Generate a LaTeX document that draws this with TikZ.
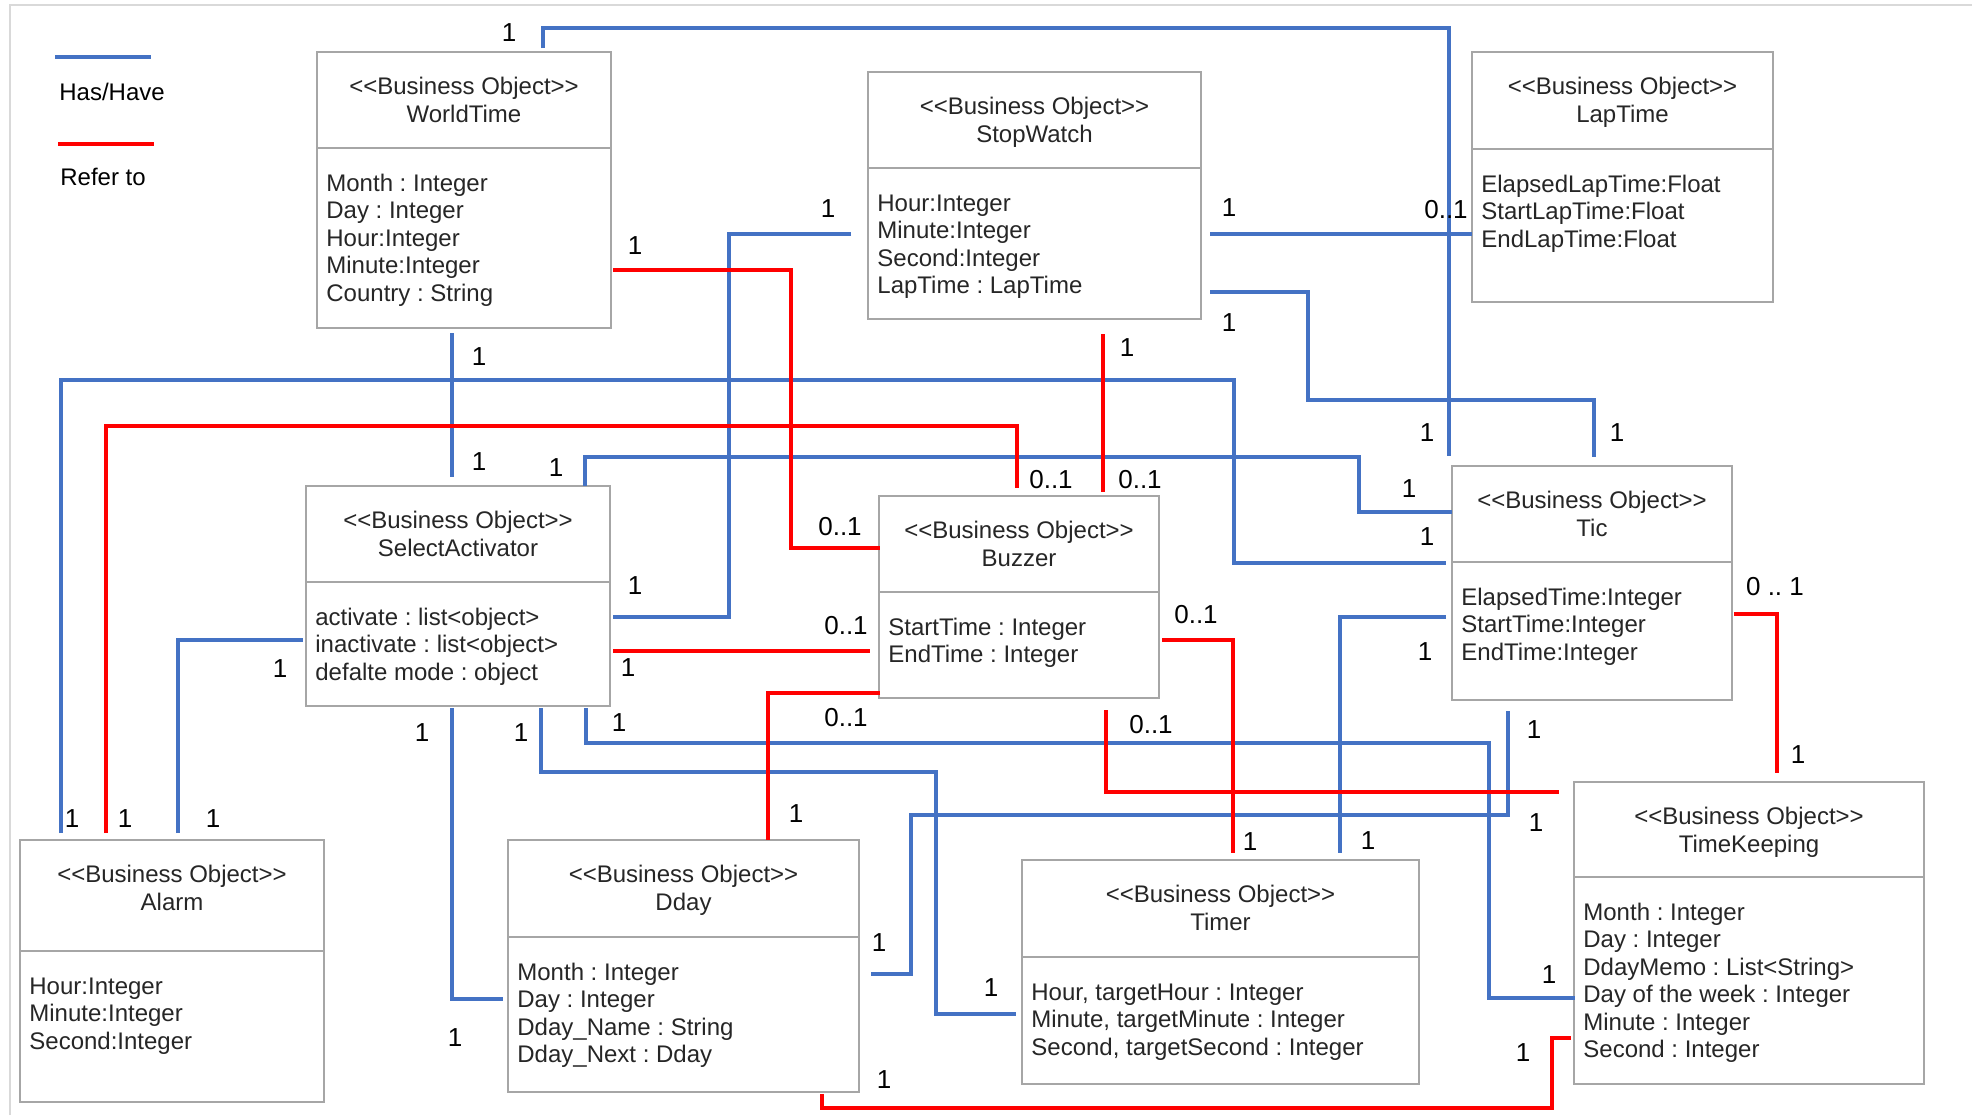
\documentclass[tikz,border=0pt]{standalone}
\usepackage{fontspec}
\setmainfont{Liberation Sans}
\frenchspacing
\definecolor{hasblue}{HTML}{4472C4}
\definecolor{refred}{HTML}{FF0000}
\definecolor{boxgray}{HTML}{A6A6A6}
\definecolor{txtc}{HTML}{262626}
\definecolor{framegray}{HTML}{D9D9D9}
\tikzset{
  hasline/.style={draw=hasblue, line width=2pt},
  refline/.style={draw=refred, line width=2pt},
  ubox/.style={draw=boxgray, line width=1pt, inner sep=0pt, outer sep=0pt},
  boxline/.style={draw=boxgray, line width=1pt},
  utext/.style={inner sep=0pt, font=\fontsize{12}{14}\selectfont\frenchspacing, text=txtc},
  mult/.style={inner sep=0pt, font=\fontsize{13}{15}\selectfont, text=black},
  legtext/.style={inner sep=0pt, font=\fontsize{12}{14}\selectfont, text=black, anchor=west},
}
\newcommand\umlbox[8]{%
  \node[ubox, minimum width={(#4-#2)*0.5pt}, minimum height={(#5-#3)*0.5pt}] (#1) at ({(#2+#4)/2},{(#3+#5)/2}) {};
  \draw[boxline] (#2,#6) -- (#4,#6);
  \node[utext, anchor=base] (#1-st) at ({(#2+#4)/2},{#3+42.5}) {<\kern0pt<Business Object>\kern0pt>};
  \node[utext, anchor=base] (#1-nm) at ({(#2+#4)/2},{#3+70}) {#7};
  \foreach \bodyline [count=\bi] in {#8}{
    \node[utext, anchor=base west] (#1-b\bi) at ({#2+9},{#6+43+(\bi-1)*27.5}) {\bodyline};
  }
}
\begin{document}
\begin{tikzpicture}[x=0.5pt,y=-0.5pt]
\fill[white] (0,0) rectangle (1972,1115);
\useasboundingbox (0,0) rectangle (1972,1115);
\draw[framegray, line width=0.6pt] (10,1115) -- (10,5) -- (1972,5);

% legend
\coordinate (lg1a) at (55,57); \coordinate (lg1b) at (151,57);
\draw[hasline] (lg1a) -- (lg1b);
\node[legtext] (lgt1) at (59,92) {Has/Have};
\coordinate (lg2a) at (58,144); \coordinate (lg2b) at (154,144);
\draw[refline] (lg2a) -- (lg2b);
\node[legtext] (lgt2) at (60,177) {Refer to};

% boxes
\umlbox{wt}{317}{52}{611}{328}{148}{WorldTime}{Month : Integer, Day : Integer, Hour:Integer, Minute:Integer, Country : String}
\umlbox{sw}{868}{72}{1201}{319}{168}{StopWatch}{Hour:Integer, Minute:Integer, Second:Integer, LapTime : LapTime}
\umlbox{lt}{1472}{52}{1773}{302}{149}{LapTime}{ElapsedLapTime:Float, StartLapTime:Float, EndLapTime:Float}
\umlbox{sa}{306}{486}{610}{706}{582}{SelectActivator}{activate : list<object>, inactivate : list<object>, defalte mode : object}
\umlbox{bz}{879}{496}{1159}{698}{592}{Buzzer}{StartTime : Integer, EndTime : Integer}
\umlbox{tic}{1452}{466}{1732}{700}{562}{Tic}{ElapsedTime:Integer, StartTime:Integer, EndTime:Integer}
\umlbox{tk}{1574}{782}{1924}{1084}{877}{TimeKeeping}{Month : Integer, Day : Integer, DdayMemo : List<String>, Day of the week : Integer, Minute : Integer, Second : Integer}
\umlbox{al}{20}{840}{324}{1102}{951}{Alarm}{Hour:Integer, Minute:Integer, Second:Integer}
\umlbox{dd}{508}{840}{859}{1092}{937}{Dday}{Month : Integer, Day : Integer, Dday\_Name : String, Dday\_Next : Dday}
\umlbox{tm}{1022}{860}{1419}{1084}{957}{Timer}{{Hour, targetHour : Integer}, {Minute, targetMinute : Integer}, {Second, targetSecond : Integer}}

% connector end points
\coordinate (c1a) at (543,48);   \coordinate (c1b) at (1449,456);
\coordinate (csla) at (1210,234);
\coordinate (c2a) at (1210,292); \coordinate (c2b) at (1594,457);
\coordinate (c3a) at (851,234);  \coordinate (c3b) at (613,617);
\coordinate (c4a) at (613,270);  \coordinate (c4b) at (880,548);
\coordinate (c5a) at (452,333);  \coordinate (c5b) at (452,477);
\coordinate (c6a) at (61,833);   \coordinate (c6b) at (1446,563);
\coordinate (c7a) at (106,833);  \coordinate (c7b) at (1017,488);
\coordinate (c8a) at (1103,334); \coordinate (c8b) at (1103,492);
\coordinate (c9a) at (585,486);  \coordinate (c9b) at (1452,512);
\coordinate (c10a) at (613,651); \coordinate (c10b) at (870,651);
\coordinate (c11a) at (178,833); \coordinate (c11b) at (303,640);
\coordinate (c12a) at (452,708); \coordinate (c12b) at (503,999);
\coordinate (c13a) at (541,708); \coordinate (c13b) at (1016,1014);
\coordinate (c14a) at (586,708); \coordinate (c14b) at (1575,998);
\coordinate (c15a) at (880,693); \coordinate (c15b) at (768,840);
\coordinate (c16a) at (1162,640); \coordinate (c16b) at (1233,853);
\coordinate (c17a) at (1106,710); \coordinate (c17b) at (1559,792);
\coordinate (c18a) at (871,974); \coordinate (c18b) at (1508,711);
\coordinate (c19a) at (1446,617); \coordinate (c19b) at (1340,853);
\coordinate (c20a) at (1734,614); \coordinate (c20b) at (1777,773);
\coordinate (c21a) at (822,1094); \coordinate (c21b) at (1571,1038);

% Has/Have connectors
\draw[hasline] (c1a) -- (543,28) -| (c1b);
\draw[hasline] (csla) -- (csla -| lt.west);
\draw[hasline] (c2a) -| (1308,400) -| (c2b);
\draw[hasline] (c3a) -| (729,617) -- (c3b);
\draw[hasline] (c5a) -- (c5b);
\draw[hasline] (c6a) |- (1234,380) |- (c6b);
\draw[hasline] (c9a) |- (1359,457) |- (c9b);
\draw[hasline] (c11a) |- (c11b);
\draw[hasline] (c12a) |- (c12b);
\draw[hasline] (c13a) |- (936,772) |- (c13b);
\draw[hasline] (c14a) |- (1489,743) |- (c14b);
\draw[hasline] (c18a) -| (911,815) -| (c18b);
\draw[hasline] (c19a) -| (c19b);

% Refer to connectors
\draw[refline] (c4a) -| (791,548) -- (c4b);
\draw[refline] (c7a) |- (1017,426) -- (c7b);
\draw[refline] (c8a) -- (c8b);
\draw[refline] (c10a) -- (c10b);
\draw[refline] (c15a) -| (c15b);
\draw[refline] (c16a) -| (c16b);
\draw[refline] (c17a) |- (c17b);
\draw[refline] (c20a) -| (c20b);
\draw[refline] (c21a) |- (1552,1108) |- (c21b);

% multiplicities
\node[mult] (m1) at (509,33) {1};
\node[mult] (m2) at (1427,433) {1};
\node[mult] (m3) at (1229,208) {1};
\node[mult] (m4) at (1446,210) {0..1};
\node[mult] (m5) at (1229,323) {1};
\node[mult] (m6) at (1617,433) {1};
\node[mult] (m7) at (828,209) {1};
\node[mult] (m8) at (635,586) {1};
\node[mult] (m9) at (635,246) {1};
\node[mult] (m10) at (840,527) {0..1};
\node[mult] (m11) at (479,357) {1};
\node[mult] (m12) at (479,462) {1};
\node[mult] (m13) at (1427,537) {1};
\node[mult] (m14) at (72,819) {1};
\node[mult] (m15) at (125,819) {1};
\node[mult] (m16) at (1051,480) {0..1};
\node[mult] (m17) at (1127,348) {1};
\node[mult] (m18) at (1140,480) {0..1};
\node[mult] (m19) at (556,468) {1};
\node[mult] (m20) at (1409,489) {1};
\node[mult] (m21) at (628,668) {1};
\node[mult] (m22) at (846,626) {0..1};
\node[mult] (m23) at (280,669) {1};
\node[mult] (m24) at (213,819) {1};
\node[mult] (m25) at (422,733) {1};
\node[mult] (m26) at (455,1038) {1};
\node[mult] (m27) at (521,733) {1};
\node[mult] (m28) at (991,988) {1};
\node[mult] (m29) at (619,723) {1};
\node[mult] (m30) at (1549,975) {1};
\node[mult] (m31) at (846,718) {0..1};
\node[mult] (m32) at (796,814) {1};
\node[mult] (m33) at (1196,615) {0..1};
\node[mult] (m34) at (1250,842) {1};
\node[mult] (m35) at (1151,725) {0..1};
\node[mult] (m36) at (1536,823) {1};
\node[mult] (m37) at (1534,730) {1};
\node[mult] (m38) at (879,943) {1};
\node[mult] (m39) at (1425,652) {1};
\node[mult] (m40) at (1368,841) {1};
\node[mult] (m41) at (1775,587) {0 .. 1};
\node[mult] (m42) at (1798,755) {1};
\node[mult] (m43) at (884,1080) {1};
\node[mult] (m44) at (1523,1053) {1};
\end{tikzpicture}
\end{document}
